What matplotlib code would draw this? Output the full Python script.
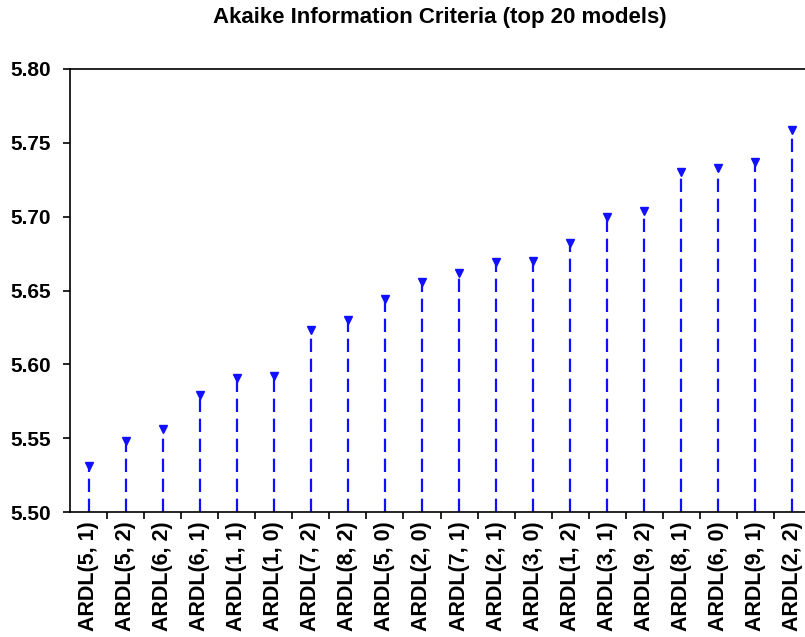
import numpy as np
import matplotlib.pyplot as plt
from matplotlib.ticker import FixedLocator

# model labels and AIC values
models = ['ARDL(5, 1)', 'ARDL(5, 2)', 'ARDL(6, 2)', 'ARDL(6, 1)', 'ARDL(1, 1)',
          'ARDL(1, 0)', 'ARDL(7, 2)', 'ARDL(8, 2)', 'ARDL(5, 0)', 'ARDL(2, 0)',
          'ARDL(7, 1)', 'ARDL(2, 1)', 'ARDL(3, 0)', 'ARDL(1, 2)', 'ARDL(3, 1)',
          'ARDL(9, 2)', 'ARDL(8, 1)', 'ARDL(6, 0)', 'ARDL(9, 1)', 'ARDL(2, 2)']
aic = [5.531, 5.548, 5.556, 5.579, 5.591,
       5.592, 5.623, 5.630, 5.644, 5.656,
       5.662, 5.669, 5.670, 5.682, 5.700,
       5.704, 5.730, 5.733, 5.737, 5.759]
y_ticks = [5.50, 5.55, 5.60, 5.65, 5.70, 5.75, 5.80]

plt.rcParams['font.family'] = ['Liberation Sans', 'DejaVu Sans']

fig = plt.figure(figsize=(8.05, 6.37), dpi=100)
ax = fig.add_axes([70 / 805, 125 / 637, 741 / 805, 443 / 637])

x = np.arange(len(models))
base = y_ticks[0]
ax.vlines(x, base, aic, colors='#1010ff', linestyles=(0, (6, 3)), linewidth=1.6)
ax.plot(x, aic, linestyle='none', marker='v', markersize=5.5, color='#1010ff')

ax.set_xlim(-0.5, len(models) - 0.5)
ax.set_ylim(y_ticks[0], y_ticks[-1])
ax.set_yticks(y_ticks)
ax.set_yticklabels(['%.2f' % v for v in y_ticks], fontsize=15, fontweight='bold')

ax.set_xticks(x)
ax.set_xticklabels(models, rotation=90, fontsize=15.5, fontweight='bold')
ax.xaxis.set_minor_locator(FixedLocator(np.arange(0.5, len(models) - 0.5, 1.0)))
ax.tick_params(axis='x', which='major', length=0, pad=7)
ax.tick_params(axis='x', which='minor', length=5, width=1.2, direction='out')
ax.tick_params(axis='y', length=5, width=1.2, direction='out', pad=9)

ax.spines['right'].set_visible(False)
for s in ['left', 'top', 'bottom']:
    ax.spines[s].set_linewidth(1.2)

fig.text(440 / 805, 1 - 18 / 637, 'Akaike Information Criteria (top 20 models)',
         ha='center', va='center', fontsize=16, fontweight='bold')

fig.savefig('out.png', dpi=100)
